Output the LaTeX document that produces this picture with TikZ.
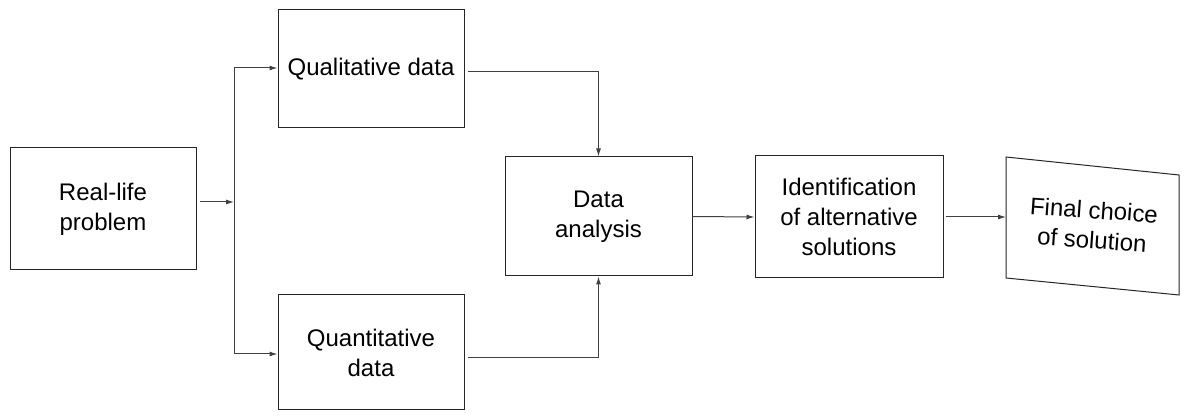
\documentclass[tikz,border=0pt]{standalone}
\usepackage{fontspec}
\setmainfont{Liberation Sans}
\usetikzlibrary{arrows.meta,calc}
\begin{document}
\begin{tikzpicture}[x=1pt,y=-1pt,
  box/.style={draw=black!85, line width=1pt, inner sep=0pt, align=center,
              font=\fontsize{24}{30}\selectfont},
  link/.style={draw=black!75, line width=1pt},
  tip/.style={-{Latex[length=8pt,width=5pt]}}]
\useasboundingbox (0,0) rectangle (1187,419);

% process boxes
\node[box, minimum width=186pt, minimum height=122pt] (real)  at (103,209)   {Real-life\\problem};
\node[box, minimum width=186pt, minimum height=118pt] (qual)  at (371,69)    {Qualitative data};
\node[box, minimum width=186pt, minimum height=115pt] (quant) at (371,352.5) {Quantitative\\data};
\node[box, minimum width=187pt, minimum height=119pt] (ana)   at (598.5,216.5) {Data\\analysis};
\node[box, minimum width=188pt, minimum height=122pt] (ident) at (849,217)   {Identification\\of alternative\\solutions};

% last box: slightly skewed outline
\node[box, draw=none, rotate=-4] (final) at (1093,225) {Final choice\\of solution};
\coordinate (ftl) at (1006,157);
\coordinate (ftr) at (1179,175);
\coordinate (fbr) at (1179,295);
\coordinate (fbl) at (1006,278);
\draw[draw=black!85, line width=1pt] (ftl) -- (ftr) -- (fbr) -- (fbl) -- cycle;
\coordinate (fin) at (1006,217);

% branching from the problem to both kinds of data
\coordinate (split) at (234,202);
\coordinate (up) at (234,68);
\coordinate (dn) at (234,354);
\draw[link, tip, shorten <=3pt] (real.east |- split) -- (split);
\draw[link] (up) -- (dn);
\draw[link, tip] (up) -- (up -| qual.west);
\draw[link, tip] (dn) -- (dn -| quant.west);

% both kinds of data feed the analysis
\coordinate (qa) at (598.5,72);
\coordinate (na) at (598.5,358);
\draw[link, tip, shorten <=3pt] (qual.east |- qa) -| (ana.north);
\draw[link, tip, shorten <=3pt] (quant.east |- na) -| (ana.south);

% main chain
\draw[link, tip] (ana.east) -- (ident.west);
\draw[link, tip, shorten <=2pt] (ident.east |- fin) -- (fin);
\end{tikzpicture}
\end{document}
